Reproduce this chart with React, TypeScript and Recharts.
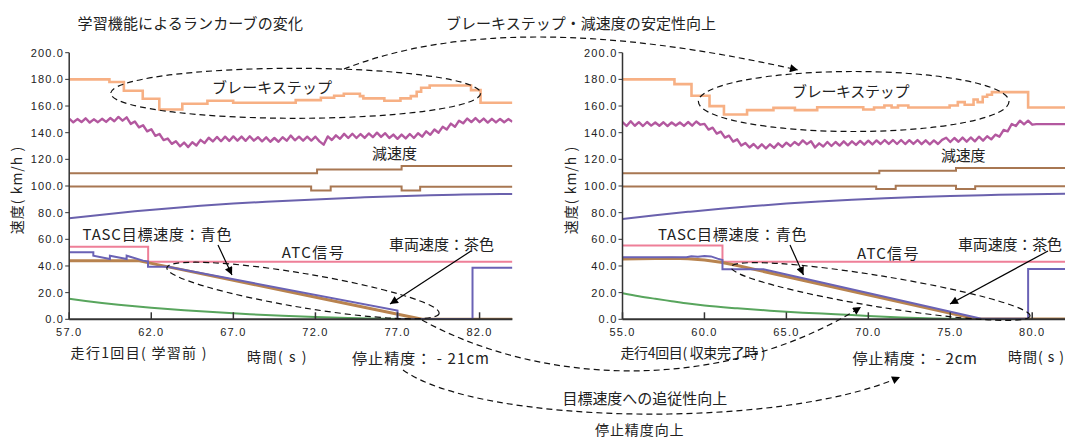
import React from 'react'
import { LineChart, Line, XAxis, YAxis } from 'recharts'

// axis ticks
const yTicks = [0, 10, 20, 30, 40, 50, 60, 70, 80, 90, 100, 110, 120, 130, 140, 150, 160, 170, 180, 190, 200]
const leftXTicks = [57, 62, 67, 72, 77, 82]
const rightXTicks = [55, 60, 65, 70, 75, 80]

// run 1 (before learning)
const leftBrakeStep: [number, number][] = [
  [57, 180], [59.45, 178], [60.33, 171.4], [61.48, 165.4], [62.49, 157.4], [63.89, 161.7], [65.42, 163.9],
  [66.99, 162.4], [70.8, 164.4], [72.33, 166.2], [73.14, 167.7], [73.73, 169.2], [74.71, 167.4], [74.92, 165.7],
  [76.2, 163.9], [77.18, 165.7], [77.81, 167.4], [78.17, 170.7], [78.44, 173.7], [78.96, 175.4], [81.48, 171.9],
  [82.06, 162.4], [84, 162.4],
]
// deceleration sampled every 0.25 s from 57.0
const leftDecelStart = 57
const leftDecel = [
  150.5, 147.8, 150.2, 148.0, 150.8, 147.6, 150.0, 147.9, 150.4, 148.1,
  151.0, 148.6, 151.8, 149.0, 151.5, 146.6, 148.4, 144.0, 145.6, 141.0,
  142.6, 137.6, 139.0, 134.4, 135.6, 131.6, 133.5, 129.8, 132.6, 129.2,
  132.8, 130.4, 134.6, 132.2, 136.2, 133.4, 136.8, 133.6, 137.0, 133.8,
  137.2, 134.0, 137.1, 133.9, 137.3, 134.0, 136.6, 133.5, 136.5, 133.2,
  136.0, 133.2, 136.6, 134.0, 137.8, 134.3, 137.0, 134.0, 137.0, 134.1,
  137.0, 133.5, 131.0, 137.2, 134.5, 138.0, 135.4, 139.1, 136.0, 139.2,
  136.0, 139.0, 136.1, 139.4, 136.6, 140.0, 136.8, 139.6, 136.0, 138.6,
  135.4, 138.6, 135.7, 139.0, 136.0, 139.6, 137.0, 141.0, 138.4, 142.4,
  140.0, 144.4, 142.4, 146.8, 144.4, 149.0, 147.0, 150.6, 148.0, 151.0,
  147.9, 150.6, 147.6, 150.4, 147.7, 150.3, 147.8, 150.2, 148.2,
]
const leftBrownUpper: [number, number][] = [[57, 109.5], [72.1, 112.3], [77.25, 115], [84, 115]]
const leftBrownLower: [number, number][] = [[57, 99.7], [71.74, 96.7], [72.93, 99.7], [77.25, 96.7], [78.38, 99.5], [84, 99.5]]
const leftPurpleCurve: [number, number][] = [
  [57, 75.8], [59, 78.5], [61, 81], [63, 83.2], [65, 85.1], [67, 86.8], [69, 88.2], [71, 89.4],
  [73, 90.5], [75, 91.5], [77, 92.4], [79, 93.1], [81, 93.6], [84, 94],
]
const leftAtc: [number, number][] = [[57, 54.5], [61.81, 43.2], [84, 43.2]]
const leftTarget: [number, number][] = [
  [57, 50.3], [58.47, 50.3], [58.47, 47.7], [59.48, 45.2], [59.48, 47.7], [60.5, 45.2], [60.5, 47.7],
  [61.5, 44.0], [61.8, 43.4], [61.8, 39.5], [63.0, 39.5], [77.0, 6.5], [77.0, 0.3], [81.57, 0.3],
  [81.57, 38.7], [84, 38.7],
]
const leftVehicle: [number, number][] = [[57, 44], [61.2, 44], [78.5, 0], [84, 0]]
const leftGreen: [number, number][] = [
  [57, 15.5], [58, 13.8], [59, 12.3], [60, 11], [61, 9.8], [62, 8.7], [64, 6.8], [66, 5.2], [68, 3.8],
  [70, 2.6], [72, 1.7], [74, 1], [76, 0.5], [78, 0.2], [80, 0], [84, 0],
]

// run 4 (converged)
const rightBrakeStep: [number, number][] = [
  [55, 180], [58.17, 176.4], [59.21, 167.7], [60.31, 159.9], [61.19, 153.6], [62.6, 156.9], [64.21, 158.6],
  [65.52, 156.9], [66.88, 159.1], [69.69, 157.4], [70.35, 158.9], [70.98, 160.4], [71.42, 158.9], [71.81, 160.4],
  [72.44, 158.9], [74.96, 160.4], [75.46, 162.9], [75.88, 160.9], [76.42, 164.9], [76.67, 162.9], [76.98, 166.9],
  [77.25, 168.4], [77.54, 170.4], [79.75, 158.9], [82, 158.9],
]
const rightDecelStart = 55
const rightDecel = [
  148.0, 145.0, 148.6, 145.2, 147.9, 145.0, 148.0, 145.3, 147.6, 145.2,
  147.8, 145.0, 147.7, 145.4, 147.6, 145.1, 148.0, 145.3, 148.4, 146.0,
  146.6, 142.3, 143.8, 139.3, 140.8, 136.3, 137.8, 133.3, 135.0, 130.3,
  132.3, 128.9, 131.5, 128.3, 131.3, 128.2, 131.3, 128.6, 132.0, 129.3,
  132.5, 130.0, 133.0, 130.8, 134.2, 131.4, 133.6, 128.9, 132.0, 129.6,
  133.0, 130.0, 133.0, 130.3, 133.5, 130.5, 133.5, 130.8, 133.8, 131.0,
  134.0, 131.2, 134.2, 131.5, 134.5, 131.6, 134.5, 131.5, 134.5, 131.5,
  134.4, 131.6, 134.5, 131.4, 134.3, 131.3, 134.2, 131.5, 134.6, 136.2,
  133.0, 136.0, 133.2, 136.3, 133.3, 136.4, 133.5, 137.0, 134.0, 137.3,
  135.0, 138.5, 137.0, 142.0, 141.0, 146.5, 145.0, 149.0, 146.3, 149.0,
  146.0, 146.4, 146.4, 146.4, 146.4, 146.4, 146.4, 146.4, 146.4,
]
const rightBrownUpper: [number, number][] = [[55, 109.5], [70.67, 111.5], [75.35, 113.5], [82, 113.5]]
const rightBrownLower: [number, number][] = [[55, 99.7], [70.48, 97.7], [71.67, 100.2], [75.35, 97.7], [76.52, 99.9], [82, 99.9]]
const rightPurpleCurve: [number, number][] = [
  [55, 75.2], [57, 78], [59, 80.6], [61, 83], [63, 85], [65, 86.8], [67, 88.4], [69, 89.7],
  [71, 90.8], [73, 91.7], [75, 92.5], [77, 93.1], [79, 93.6], [82, 94.1],
]
const rightAtc: [number, number][] = [[55, 55.4], [61.1, 43.1], [82, 43.1]]
const rightTarget: [number, number][] = [
  [55, 46.5], [58.9, 46.5], [59.2, 47.3], [59.6, 47.0], [60.0, 47.4], [60.4, 47.2], [60.8, 45.5],
  [61.1, 44.5], [61.1, 37.5], [63.6, 37.5], [76.9, 0.5], [79.75, 0.5], [79.75, 37.8], [82, 37.8],
]
const rightVehicle: [number, number][] = [
  [55, 45.3], [58, 45.8], [59, 45.5], [60, 44.5], [61, 42.8], [62, 40.3], [76.6, 0.2], [82, 0.2],
]
const rightGreen: [number, number][] = [
  [55, 19.5], [56, 17.3], [57, 15.4], [58, 13.6], [59, 11.8], [60, 10.3], [62, 8.2], [64, 6.5], [66, 5],
  [68, 3.8], [70, 2.5], [72, 1.4], [74, 0.6], [76, 0.2], [78, 0], [82, 0],
]

const pts = (a: [number, number][]) => a.map(([x, y]) => ({ x, y }))
const sampled = (start: number, vals: number[]) => vals.map((y, i) => ({ x: start + i * 0.25, y }))

const tickFont = { fontFamily: '"Liberation Sans", Arial, sans-serif', fontSize: 11, letterSpacing: 1.2, fill: '#222' }
const jp = '"Noto Sans CJK JP", "Noto Sans", sans-serif'

const XTick = (props: any) => {
  const { x, y, payload } = props
  return (
    <g>
      <line x1={x} y1={y} x2={x} y2={y - 7} stroke="#333" strokeWidth={1.5} />
      <text x={x} y={y + 17} textAnchor="middle" {...tickFont}>{Number(payload.value).toFixed(1)}</text>
    </g>
  )
}

interface PanelProps {
  left: number
  width: number
  marginLeft: number
  marginRight: number
  domain: [number, number]
  xTicks: number[]
  brake: [number, number][]
  decel: { x: number; y: number }[]
  brownUpper: [number, number][]
  brownLower: [number, number][]
  purple: [number, number][]
  atc: [number, number][]
  green: [number, number][]
  vehicle: [number, number][]
  target: [number, number][]
}

function Panel(p: PanelProps) {
  return (
    <div style={{ position: 'absolute', left: p.left, top: 0 }}>
      <LineChart width={p.width} height={360} margin={{ top: 52.7, right: p.marginRight, bottom: 10.7, left: p.marginLeft }}>
        <XAxis
          type="number"
          dataKey="x"
          domain={p.domain}
          ticks={p.xTicks}
          allowDataOverflow
          height={30}
          tickSize={0}
          tickMargin={0}
          tick={<XTick />}
          axisLine={{ stroke: '#333', strokeWidth: 2 }}
        />
        <YAxis
          type="number"
          dataKey="y"
          domain={[0, 200]}
          ticks={yTicks}
          allowDataOverflow
          width={60}
          tickSize={4}
          tickMargin={1}
          tickFormatter={(v: number) => v.toFixed(1)}
          tick={tickFont}
          tickLine={{ stroke: '#333' }}
          axisLine={{ stroke: '#333', strokeWidth: 1.5 }}
        />
        <Line data={pts(p.brake)} dataKey="y" type="stepAfter" stroke="#f7b084" strokeWidth={2.6} dot={false} isAnimationActive={false} />
        <Line data={p.decel} dataKey="y" type="linear" stroke="#b3589f" strokeWidth={2.4} strokeLinejoin="round" dot={false} isAnimationActive={false} />
        <Line data={pts(p.brownUpper)} dataKey="y" type="stepAfter" stroke="#a87752" strokeWidth={2} dot={false} isAnimationActive={false} />
        <Line data={pts(p.brownLower)} dataKey="y" type="stepAfter" stroke="#a87752" strokeWidth={2} dot={false} isAnimationActive={false} />
        <Line data={pts(p.purple)} dataKey="y" type="monotone" stroke="#6a61ad" strokeWidth={2} dot={false} isAnimationActive={false} />
        <Line data={pts(p.atc)} dataKey="y" type="stepAfter" stroke="#ee7f98" strokeWidth={2} dot={false} isAnimationActive={false} />
        <Line data={pts(p.green)} dataKey="y" type="monotone" stroke="#58a55d" strokeWidth={2} dot={false} isAnimationActive={false} />
        <Line data={pts(p.vehicle)} dataKey="y" type="linear" stroke="#b8834f" strokeWidth={3} dot={false} isAnimationActive={false} />
        <Line data={pts(p.target)} dataKey="y" type="linear" stroke="#6a62b5" strokeWidth={2} dot={false} isAnimationActive={false} />
      </LineChart>
    </div>
  )
}

const dash = { fill: 'none', stroke: '#111', strokeWidth: 1.2, strokeDasharray: '6 4' }

function Label({ x1, x2, y, size = 15, children }: { x1: number; x2: number; y: number; size?: number; children: string }) {
  return (
    <text x={x1} y={y} dominantBaseline="central" textLength={x2 - x1} lengthAdjust="spacing" fontFamily={jp} fontSize={size} fill="#222">
      {children}
    </text>
  )
}

function Overlay() {
  return (
    <svg width={1065} height={437} style={{ position: 'absolute', left: 0, top: 0, pointerEvents: 'none' }}>
      <defs>
        <marker id="ah" viewBox="0 0 10 10" refX="10" refY="5" markerWidth="10" markerHeight="8" orient="auto" markerUnits="userSpaceOnUse">
          <path d="M0,0 L10,5 L0,10 z" fill="#000" />
        </marker>
      </defs>
      {/* titles */}
      <Label x1={77.5} x2={303} y={22.7}>学習機能によるランカーブの変化</Label>
      <Label x1={446} x2={716} y={22.7}>ブレーキステップ・減速度の安定性向上</Label>

      {/* axis titles */}
      <text transform="translate(16,190) rotate(-90)" textAnchor="middle" dominantBaseline="central" fontFamily={jp} fontSize={14} fill="#222" letterSpacing={1}>速度( km/h )</text>
      <text transform="translate(570,190) rotate(-90)" textAnchor="middle" dominantBaseline="central" fontFamily={jp} fontSize={14} fill="#222" letterSpacing={1}>速度( km/h )</text>

      {/* series labels */}
      <Label x1={212} x2={332} y={86}>ブレーキステップ</Label>
      <Label x1={792} x2={909.5} y={90.7}>ブレーキステップ</Label>
      <Label x1={372} x2={417} y={152.7}>減速度</Label>
      <Label x1={941} x2={985.6} y={154}>減速度</Label>
      <Label x1={82.6} x2={231.4} y={233.3}>TASC目標速度：青色</Label>
      <Label x1={658} x2={806.5} y={233.3}>TASC目標速度：青色</Label>
      <Label x1={281.7} x2={343.7} y={251.7}>ATC信号</Label>
      <Label x1={857} x2={918.4} y={252}>ATC信号</Label>
      <Label x1={389} x2={494} y={243.3}>車両速度：茶色</Label>
      <Label x1={958} x2={1062} y={243}>車両速度：茶色</Label>

      {/* bottom texts */}
      <Label x1={70.6} x2={206.6} y={351.7} size={14}>走行1回目( 学習前 )</Label>
      <Label x1={247} x2={306.5} y={356} size={14}>時間( s )</Label>
      <Label x1={352} x2={489} y={357.3}>停止精度： - 21cm</Label>
      <Label x1={620.4} x2={765.5} y={351.7} size={14}>走行4回目( 収束完了時 )</Label>
      <Label x1={852.5} x2={977} y={357.3}>停止精度： - 2cm</Label>
      <Label x1={1008} x2={1064} y={356} size={14}>時間( s )</Label>
      <Label x1={562.4} x2={727.3} y={397.3}>目標速度への追従性向上</Label>
      <Label x1={595} x2={683.6} y={428.5} size={14}>停止精度向上</Label>

      {/* solid arrows */}
      <line x1={218} x2={232} y1={245} y2={275} stroke="#000" strokeWidth={1.2} markerEnd="url(#ah)" />
      <line x1={790} x2={803.5} y1={245} y2={275} stroke="#000" strokeWidth={1.2} markerEnd="url(#ah)" />
      <line x1={471} x2={390} y1={251} y2={304} stroke="#000" strokeWidth={1.2} markerEnd="url(#ah)" />
      <line x1={1048} x2={950} y1={251} y2={304} stroke="#000" strokeWidth={1.2} markerEnd="url(#ah)" />

      {/* dashed ellipses */}
      <ellipse cx={295.7} cy={93.3} rx={185} ry={25} {...dash} />
      <ellipse cx={853.7} cy={101.5} rx={155.3} ry={30} {...dash} />
      <ellipse cx={303} cy={290.5} rx={138} ry={17} transform="rotate(9.5 303 290.5)" {...dash} />
      <ellipse cx={880.5} cy={291.5} rx={151.5} ry={15.5} transform="rotate(9.3 880.5 291.5)" {...dash} />

      {/* dashed connectors */}
      <path d="M344,69 Q508,4.5 798,70" {...dash} markerEnd="url(#ah)" />
      <path d="M422,320 C540,385 720,395 861,307" {...dash} markerEnd="url(#ah)" />
      <path d="M403,370 C480,425 780,430 900,377" {...dash} markerEnd="url(#ah)" />
    </svg>
  )
}

export default function App() {
  return (
    <div style={{ position: 'absolute', left: 0, top: 0, width: 1065, height: 437, background: '#fff', overflow: 'hidden' }}>
      <Panel
        left={0}
        width={515}
        marginLeft={9.2}
        marginRight={2.6}
        domain={[57, 84]}
        xTicks={leftXTicks}
        brake={leftBrakeStep}
        decel={sampled(leftDecelStart, leftDecel)}
        brownUpper={leftBrownUpper}
        brownLower={leftBrownLower}
        purple={leftPurpleCurve}
        atc={leftAtc}
        green={leftGreen}
        vehicle={leftVehicle}
        target={leftTarget}
      />
      <Panel
        left={560}
        width={505}
        marginLeft={2.5}
        marginRight={0}
        domain={[55, 82]}
        xTicks={rightXTicks}
        brake={rightBrakeStep}
        decel={sampled(rightDecelStart, rightDecel)}
        brownUpper={rightBrownUpper}
        brownLower={rightBrownLower}
        purple={rightPurpleCurve}
        atc={rightAtc}
        green={rightGreen}
        vehicle={rightVehicle}
        target={rightTarget}
      />
      <Overlay />
    </div>
  )
}
